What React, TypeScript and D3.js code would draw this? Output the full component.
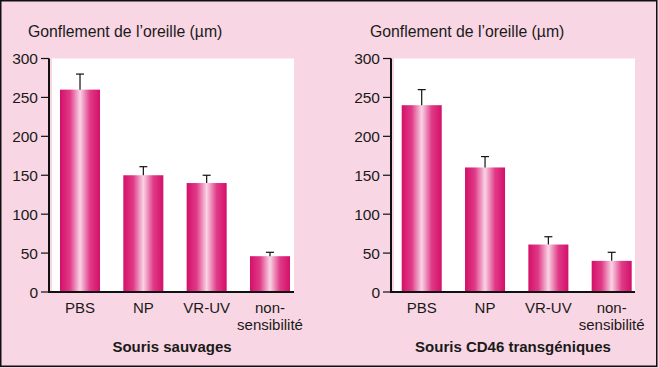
import React from "react";
import * as d3 from "d3";

const categories = ["PBS", "NP", "VR-UV", "non-sensibilité"];
const categoryLines = [["PBS"], ["NP"], ["VR-UV"], ["non-", "sensibilité"]];
const wildValues = [260, 150, 140, 46];
const wildErrors = [280, 161, 150, 51];
const cd46Values = [240, 160, 61, 40];
const cd46Errors = [260, 174, 71, 51];
const yTicks = [0, 50, 100, 150, 200, 250, 300];
const yTitle = "Gonflement de l’oreille (µm)";
const panelTitles = ["Souris sauvages", "Souris CD46 transgéniques"];

const W = 659;
const H = 368;
const FONT = "'Liberation Sans', Arial, Helvetica, sans-serif";

type PanelProps = {
  axisX: number;
  plotRight: number;
  barStart: number;
  barEnd: number;
  values: number[];
  errors: number[];
  title: string;
  titleX: number;
  footX: number;
};

function Panel({ axisX, plotRight, barStart, barEnd, values, errors, title, titleX, footX }: PanelProps) {
  const y = d3.scaleLinear().domain([0, 300]).range([292, 58.5]);
  const x = d3.scaleBand<string>().domain(categories).range([barStart, barEnd]).paddingInner(0.368).paddingOuter(0);
  const bw = x.bandwidth();
  return (
    <g>
      <rect x={axisX + 3} y={y(300)} width={plotRight - axisX - 3} height={y(0) - y(300)} fill="#ffffff" />
      <text x={titleX} y={37} fontSize={15.8} fontFamily={FONT} fill="#1a1a1a">{yTitle}</text>
      {categories.map((c, i) => {
        const bx = x(c)!;
        const cx = bx + bw / 2;
        return (
          <g key={c}>
            <rect x={bx} y={y(values[i])} width={bw} height={y(0) - y(values[i])} fill="url(#barGrad)" />
            <line x1={cx} x2={cx} y1={y(values[i])} y2={y(errors[i])} stroke="#111" strokeWidth={1.2} />
            <line x1={cx - 4} x2={cx + 4} y1={y(errors[i])} y2={y(errors[i])} stroke="#111" strokeWidth={1.2} />
            {categoryLines[i].map((t, j) => (
              <text key={j} x={cx} y={313 + j * 17} textAnchor="middle" fontSize={15} fontFamily={FONT} fill="#1a1a1a">{t}</text>
            ))}
          </g>
        );
      })}
      <line x1={axisX} x2={axisX} y1={y(300)} y2={y(0) + 1} stroke="#111" strokeWidth={2} />
      <line x1={axisX - 1} x2={plotRight} y1={y(0)} y2={y(0)} stroke="#111" strokeWidth={2} />
      {yTicks.map((t) => (
        <g key={t}>
          <line x1={axisX - 8} x2={axisX} y1={y(t)} y2={y(t)} stroke="#111" strokeWidth={1.2} />
          <text x={axisX - 11} y={y(t)} dy="0.36em" textAnchor="end" fontSize={15.5} fontFamily={FONT} fill="#1a1a1a">{t}</text>
        </g>
      ))}
      <text x={footX} y={352} textAnchor="middle" fontSize={15} fontWeight="bold" fontFamily={FONT} fill="#1a1a1a">{title}</text>
    </g>
  );
}

export default function App() {
  return (
    <svg width={W} height={H} style={{ position: "fixed", left: 0, top: 0, display: "block" }}>
      <defs>
        <linearGradient id="barGrad" x1="0" x2="1" y1="0" y2="0">
          <stop offset="0" stopColor="#d4106a" />
          <stop offset="0.25" stopColor="#e03a87" />
          <stop offset="0.5" stopColor="#f9d4e5" />
          <stop offset="0.75" stopColor="#e03a87" />
          <stop offset="1" stopColor="#d4106a" />
        </linearGradient>
      </defs>
      <rect x={0} y={0} width={W} height={H} fill="#f9d6e3" />
      <Panel axisX={49} plotRight={294} barStart={60} barEnd={290} values={wildValues} errors={wildErrors}
        title={panelTitles[0]} titleX={28} footX={172} />
      <Panel axisX={391} plotRight={635} barStart={401.7} barEnd={631.7} values={cd46Values} errors={cd46Errors}
        title={panelTitles[1]} titleX={370} footX={513} />
      <rect x={0.75} y={0.75} width={656} height={365.5} fill="none" stroke="#111" strokeWidth={1.5} />
    </svg>
  );
}
